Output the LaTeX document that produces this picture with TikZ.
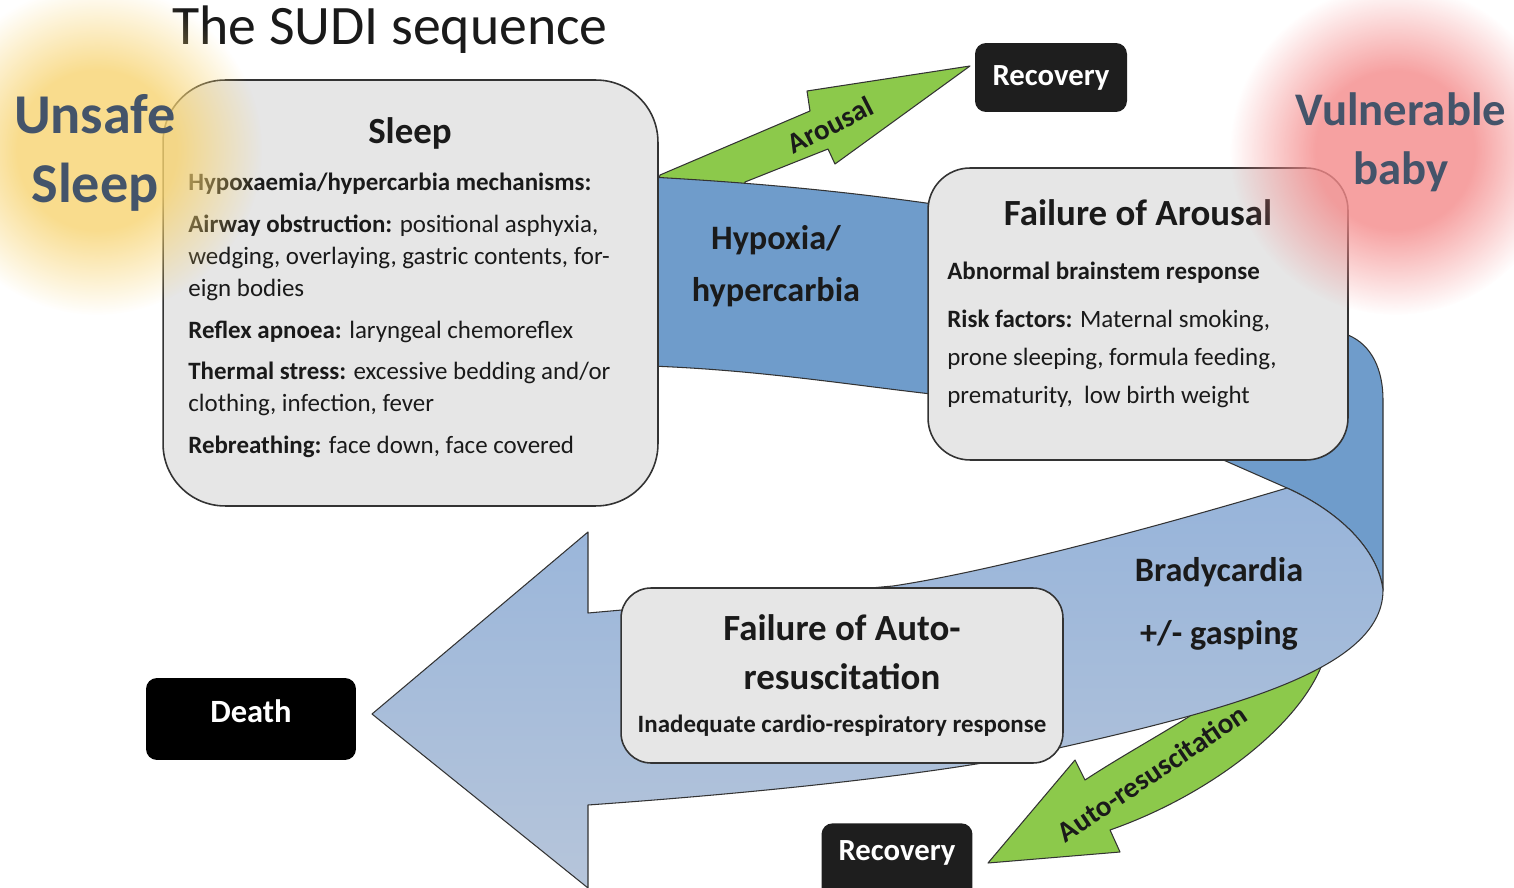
\documentclass[tikz,border=0pt]{standalone}
\usepackage{fontspec}
\setmainfont{Carlito}
\usepackage{tikz}
\usetikzlibrary{positioning}
\usetikzlibrary{fadings}
\usepackage{xcolor}

\definecolor{bandblue}{HTML}{6F9CCB}
\definecolor{ribbontop}{HTML}{97B4DA}
\definecolor{ribbonbot}{HTML}{B6C5DA}
\definecolor{arrowgreen}{HTML}{8CC94B}
\definecolor{boxgray}{HTML}{E6E6E6}
\definecolor{edgegray}{HTML}{333333}
\definecolor{inkblack}{HTML}{1A1A1A}
\definecolor{plaqueblack}{HTML}{1E1E1E}
\definecolor{slate}{HTML}{44546A}
\definecolor{sunny}{HTML}{F7D370}
\definecolor{rosy}{HTML}{F48A8A}

% soft round blob, opaque in the middle
\pgfdeclareradialshading{softdiscshade}{\pgfpointorigin}{color(0bp)=(white); color(12bp)=(white); color(25bp)=(black); color(50bp)=(black)}
\pgfdeclarefading{softdisc}{\pgfuseshading{softdiscshade}}

\begin{document}
\begin{tikzpicture}[x=0.02cm, y=-0.02cm, line join=round,
    panel/.style={draw=edgegray, line width=0.9pt, fill=boxgray},
    plaque/.style={fill=plaqueblack, rounded corners=0.22cm},
    plaquetext/.style={text=white, font=\fontsize{17.5}{21}\selectfont\bfseries},
    band/.style={draw=edgegray, line width=0.6pt, fill=bandblue},
    greenarrow/.style={draw=edgegray, line width=0.6pt, fill=arrowgreen},
    heading/.style={text=inkblack, font=\fontsize{21}{27.8}\selectfont\bfseries, align=center},
    bodytext/.style={text=inkblack, font=\fontsize{14.2}{18.1}\selectfont, align=left, inner sep=0pt},
    bandlabel/.style={text=inkblack, font=\fontsize{19.5}{29.5}\selectfont\bfseries, align=center},
    arrowlabel/.style={text=inkblack, font=\fontsize{16.5}{20}\selectfont\bfseries},
    bigword/.style={text=slate, font=\bfseries, align=center}]
    \useasboundingbox (0,0) rectangle (1514,888);

    % title
    \node[text=inkblack, font=\fontsize{31.7}{38}\selectfont] (title) at (390,30) {The SUDI sequence};

    % green side arrows
    \draw[greenarrow] (660,175) -- (810,111) -- (807,91) -- (970,66) -- (835,164) -- (828,149)
        -- (745,182) -- (745,195) -- (655,195) -- cycle;
    \draw[greenarrow] (1323,662) .. controls (1300,725) and (1210,795) .. (1110,830) -- (1120,852)
        -- (988,863) -- (1075,760) -- (1085,780) .. controls (1120,757) and (1160,735) .. (1190,716)
        -- (1200,690) -- (1320,640) -- cycle;

    % blue band between the two top boxes
    \draw[band] (650,177) .. controls (760,183) and (850,192) .. (940,205) -- (940,395)
        .. controls (850,385) and (760,370) .. (650,366) -- cycle;

    % dark part of the turn
    \draw[band] (1290,330) -- (1348,335) .. controls (1372,345) and (1383,370) .. (1383,400)
        -- (1383,590) .. controls (1378,550) and (1340,512) .. (1287,488) -- (1212,455) -- cycle;

    % lighter ribbon ending in the big arrow
    \draw[draw=edgegray, line width=0.6pt, top color=ribbontop, bottom color=ribbonbot]
        (1287,488) .. controls (1180,520) and (1000,570) .. (893,586) -- (588,613) -- (588,532)
        -- (372,714) -- (588,888) -- (588,805) .. controls (800,790) and (980,768) .. (1063,747)
        .. controls (1250,705) and (1383,665) .. (1383,590)
        .. controls (1378,550) and (1340,512) .. (1287,488) -- cycle;

    % boxes
    \node[panel, minimum width=9.9cm, minimum height=8.52cm, rounded corners=1.24cm] (sleep) at (410.5,293) {};
    \node[panel, minimum width=8.4cm, minimum height=5.84cm, rounded corners=0.84cm] (arousal) at (1138,314) {};
    \node[panel, minimum width=8.84cm, minimum height=3.5cm, rounded corners=0.6cm] (autoresus) at (842,675.5) {};

    \node[plaque, minimum width=3.04cm, minimum height=1.38cm] (recoverytop) at (1051,77.5) {};
    \node[plaquetext] (recoverytoptext) at (recoverytop.center) {Recovery};
    \node[plaque, minimum width=3.02cm, minimum height=1.9cm, anchor=north] (recoverylow) at (897,823) {};
    \node[plaquetext] (recoverylowtext) at (897,853) {Recovery};
    \node[plaque, fill=black, minimum width=4.2cm, minimum height=1.64cm] (death) at (251,719) {};
    \node[plaquetext, font=\fontsize{18.5}{22}\selectfont\bfseries] (deathtext) at (251,711) {Death};

    % box texts
    \node[heading] (sleephead) at (410,133) {Sleep};
    \node[bodytext, anchor=north west] (sleeptext) at (188,173) {%
        \textbf{Hypoxaemia/hypercarbia mechanisms:}\\[5.7pt]
        \textbf{Airway obstruction:} positional asphyxia,\\
        wedging, overlaying, gastric contents, for-\\
        eign bodies\\[5.7pt]
        \textbf{Reflex apnoea:} laryngeal chemoreflex\\[5.7pt]
        \textbf{Thermal stress:} excessive bedding and/or\\
        clothing, infection, fever\\[5.7pt]
        \textbf{Rebreathing:} face down, face covered};

    \node[heading] (arousalhead) at (1138,213) {Failure of Arousal};
    \node[bodytext, anchor=north west, font=\fontsize{14.2}{21.5}\selectfont] (arousaltext) at (947,262) {%
        \textbf{Abnormal brainstem response}\\[5.7pt]
        \textbf{Risk factors:} Maternal smoking,\\
        prone sleeping, formula feeding,\\
        prematurity,\ \ low birth weight};

    \node[heading] (autohead) at (842,652) {Failure of Auto-\\resuscitation};
    \node[heading, font=\fontsize{14.2}{18}\selectfont\bfseries] (autotext) at (842,726) {Inadequate cardio-respiratory response};

    % band and arrow labels
    \node[bandlabel] (hypoxia) at (776,266) {Hypoxia/\\hypercarbia};
    \node[bandlabel, font=\fontsize{19.5}{35.7}\selectfont\bfseries] (brady) at (1219,604) {Bradycardia\\+/- gasping};
    \node[arrowlabel, rotate=27] (arousallabel) at (830,125) {Arousal};
    \node[arrowlabel, rotate=34] (autolabel) at (1152,773) {Auto-resuscitation};

    % soft blobs
    \fill[sunny, opacity=0.8, path fading=softdisc] (97,150) circle (165);
    \fill[rosy, opacity=0.8, path fading=softdisc] (1395,150) circle (165);

    \node[bigword, font=\fontsize{32}{39.7}\selectfont\bfseries] (unsafe) at (95,153) {Unsafe\\Sleep};
    \node[bigword, font=\fontsize{26.6}{33.4}\selectfont\bfseries] (vulnerable) at (1401,142) {Vulnerable\\baby};
\end{tikzpicture}
\end{document}
